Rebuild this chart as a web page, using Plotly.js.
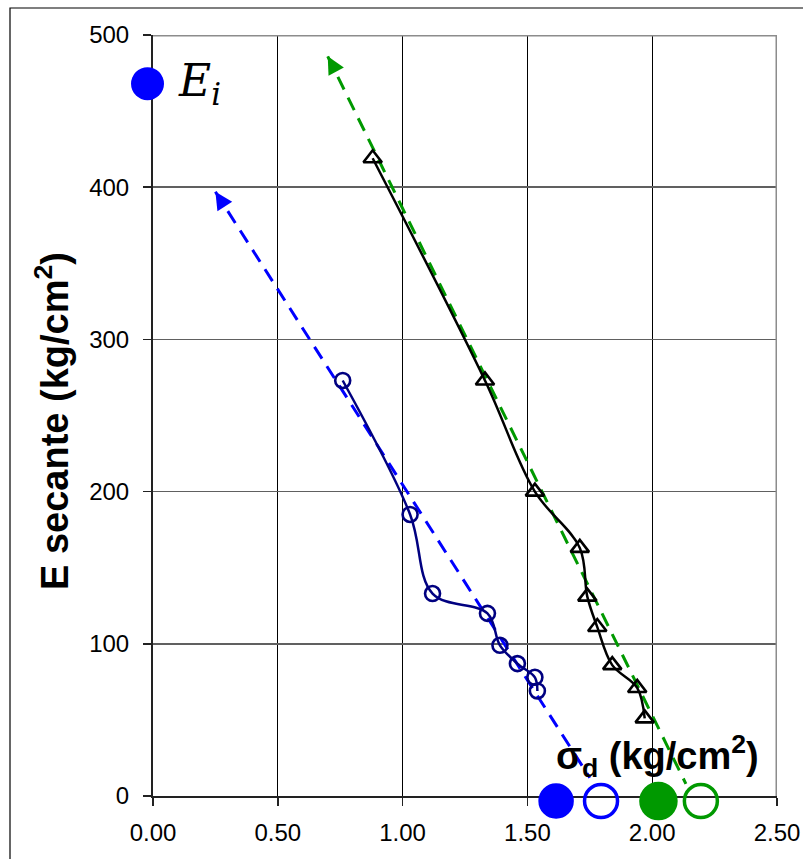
<!DOCTYPE html>
<html><head><meta charset="utf-8">
<script src="https://cdn.plot.ly/plotly-3.0.1.min.js"></script>
<style>body{margin:0;background:#fff}#chart{width:803px;height:859px}</style>
</head><body><div id="chart"></div>
<script>
// Circle series (blue / navy)
const circleX = [0.76, 1.03, 1.12, 1.34, 1.39, 1.46, 1.53, 1.54];
const circleY = [273, 185, 133, 120, 99, 87, 78, 69];
// Triangle series (black)
const triX = [0.88, 1.33, 1.53, 1.71, 1.74, 1.78, 1.84, 1.94, 1.97];
const triY = [419, 273, 200, 163, 131, 111, 86, 71, 51];
// Dashed fit lines (arrow tip first, then lower end)
const blueFitX = [0.25, 1.75];
const blueFitY = [397, 12];
const greenFitX = [0.70, 2.135];
const greenFitY = [486, 8];
// Symbols under the axis (σd markers)
const symX = [1.615, 1.795, 2.025, 2.195];
const symY = [-3.3, -3.3, -3.3, -3.3];
const symColors = ['#0000ff', '#0000ff', '#009900', '#009900'];
const symSymbols = ['circle', 'circle-open', 'circle', 'circle-open'];
const symSizes = [32, 33, 35, 33];
// Ei marker
const eiX = [-0.022];
const eiY = [468];
// Axis ticks
const xTicks = [0, 0.5, 1.0, 1.5, 2.0, 2.5];
const xTickText = ['0.00', '0.50', '1.00', '1.50', '2.00', '2.50'];
const yTicks = [0, 100, 200, 300, 400, 500];

// Plot-area geometry (pixels) used to build an overlay axis pair with the same scale
const W = 803, H = 859, L = 153, R = 777, T = 35, B = 796;
const xPerPx = 2.5 / (R - L), yPerPx = 500 / (B - T);

const traces = [
  {x: blueFitX, y: blueFitY, mode: 'lines', line: {color: '#0000ff', width: 3, dash: '14px,9px'}, hoverinfo: 'skip'},
  {x: greenFitX, y: greenFitY, mode: 'lines', line: {color: '#009900', width: 3, dash: '14px,9px'}, hoverinfo: 'skip'},
  {x: circleX, y: circleY, mode: 'lines+markers', line: {color: '#000080', width: 2.5, shape: 'spline', smoothing: 1},
   marker: {symbol: 'circle-open', size: 15, color: '#000080', line: {width: 2.6, color: '#000080'}}},
  {x: triX, y: triY, mode: 'lines+markers', line: {color: '#000000', width: 2.5, shape: 'spline', smoothing: 1},
   marker: {symbol: 'triangle-up-open', size: 16, color: '#000000', line: {width: 2.6, color: '#000000'}}},
  {x: symX, y: symY, xaxis: 'x2', yaxis: 'y2', mode: 'markers', cliponaxis: false,
   marker: {symbol: symSymbols, size: symSizes, color: symColors, opacity: 1, line: {width: 3.5, color: symColors}}},
  {x: eiX, y: eiY, xaxis: 'x2', yaxis: 'y2', mode: 'markers', cliponaxis: false,
   marker: {symbol: 'circle', size: 33, color: '#0000ff', opacity: 1}}
];

const fontSans = 'Liberation Sans, Arial, sans-serif';
const layout = {
  width: W, height: H,
  margin: {l: 0, r: 0, t: 0, b: 0},
  paper_bgcolor: '#ffffff', plot_bgcolor: 'rgba(0,0,0,0)',
  showlegend: false,
  font: {family: fontSans, color: '#000'},
  xaxis: {
    domain: [L / W, R / W], anchor: 'y',
    range: [0, 2.5], tickvals: xTicks, ticktext: xTickText,
    showgrid: true, gridcolor: '#000000', gridwidth: 1,
    showline: true, linecolor: '#222222', linewidth: 2,
    ticks: 'outside', ticklen: 8, tickcolor: '#222', tickwidth: 1.5,
    ticklabelstandoff: 6,
    tickfont: {size: 24, family: fontSans},
    zeroline: false, fixedrange: true, automargin: false
  },
  yaxis: {
    domain: [(H - B) / H, (H - T) / H], anchor: 'x',
    range: [0, 500], tickvals: yTicks,
    showgrid: true, gridcolor: '#606060', gridwidth: 1.5,
    showline: true, linecolor: '#222222', linewidth: 2,
    ticks: 'outside', ticklen: 8, tickcolor: '#222', tickwidth: 1.5,
    ticklabelstandoff: 9,
    tickfont: {size: 24, family: fontSans},
    zeroline: false, fixedrange: true, automargin: false
  },
  xaxis2: {
    domain: [0, 1], anchor: 'y2', visible: false, fixedrange: true,
    range: [-L * xPerPx, (W - L) * xPerPx]
  },
  yaxis2: {
    domain: [0, 1], anchor: 'x2', visible: false, fixedrange: true,
    range: [-(H - B) * yPerPx, B * yPerPx]
  },
  shapes: [
    {type: 'line', xref: 'x', yref: 'y', x0: 0, x1: 2.5, y0: 500, y1: 500, line: {color: '#8c8c8c', width: 3}},
    {type: 'line', xref: 'x', yref: 'y', x0: 2.5, x1: 2.5, y0: 0, y1: 500, line: {color: '#8c8c8c', width: 3}},
    {type: 'rect', xref: 'paper', yref: 'paper', x0: 10 / W, x1: 1.002, y0: -0.01, y1: (H - 8) / H, line: {color: '#000', width: 1.2}, layer: 'below'}
  ],
  annotations: [
    {x: blueFitX[0], y: blueFitY[0], xref: 'x', yref: 'y', axref: 'x', ayref: 'y',
     ax: 0.285, ay: 388, showarrow: true, arrowhead: 2, arrowsize: 1.4, arrowwidth: 2.5, arrowcolor: '#0000ff', text: ''},
    {x: greenFitX[0], y: greenFitY[0], xref: 'x', yref: 'y', axref: 'x', ayref: 'y',
     ax: 0.727, ay: 478, showarrow: true, arrowhead: 2, arrowsize: 1.4, arrowwidth: 2.5, arrowcolor: '#009900', text: ''},
    {x: 0.185, y: 468, xref: 'x', yref: 'y', showarrow: false,
     text: '<i>E<sub>i</sub></i>', font: {family: 'DejaVu Serif, serif', size: 44, color: '#000'}},
    {x: 2.02, y: 26, xref: 'x', yref: 'y', showarrow: false,
     text: '<b>σ<sub>d</sub> (kg/cm<sup>2</sup>)</b>', font: {family: fontSans, size: 38, color: '#000'}},
    {x: 52 / W, y: (H - 421) / H, xref: 'paper', yref: 'paper', xanchor: 'center', yanchor: 'middle',
     showarrow: false, textangle: -90,
     text: '<b>E secante (kg/cm<sup>2</sup>)</b>', font: {family: fontSans, size: 38, color: '#000'}}
  ]
};

Plotly.newPlot('chart', traces, layout, {displayModeBar: false, staticPlot: true});
</script></body></html>
